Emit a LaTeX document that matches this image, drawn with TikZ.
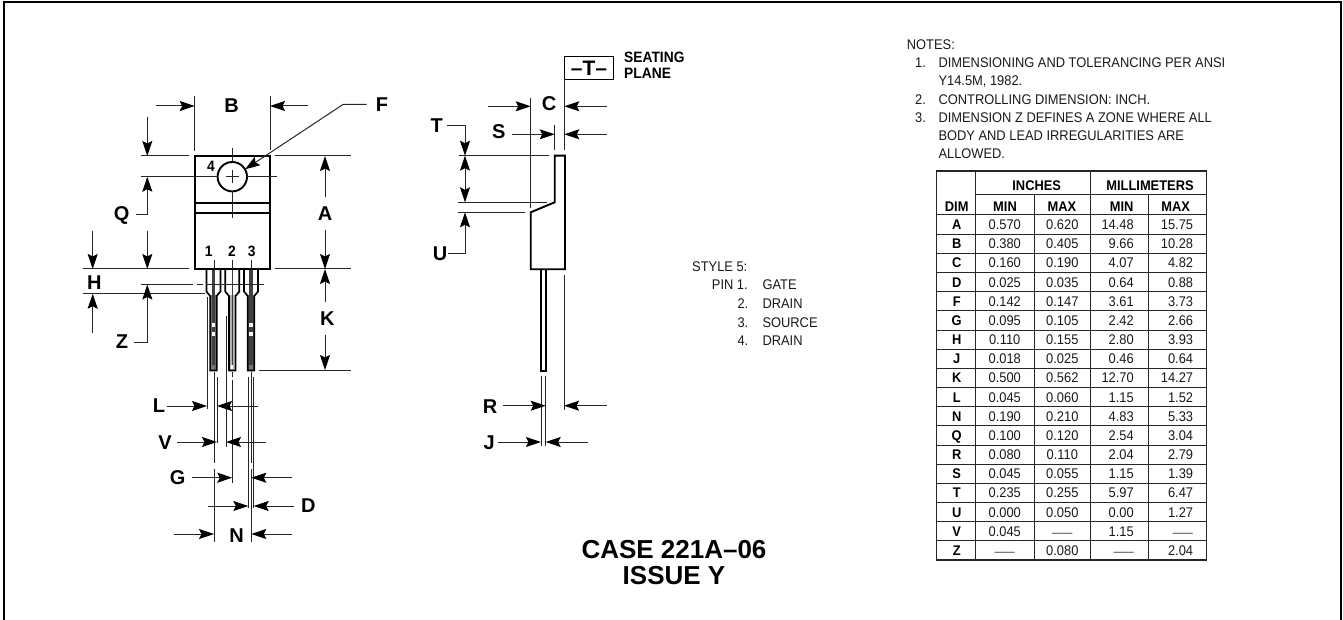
\documentclass[tikz,border=0pt]{standalone}
\usepackage{fontspec}
\setmainfont{Liberation Sans}
\newfontfamily\cond[FakeStretch=0.92]{Liberation Sans}
\usetikzlibrary{arrows.meta}
\newcommand{\nodash}{{\fontsize{11}{11}\selectfont ——}}
\tikzset{
  x=1pt,y=-1pt,
  outline/.style={line width=1.9pt,black,line join=miter},
  ext/.style={line width=1pt,black!85},
  dim/.style={line width=1pt,black!85,-{Stealth[length=15pt,width=10pt,inset=2.5pt,black]}},
  lbl/.style={font=\fontsize{20}{20}\selectfont\bfseries,inner sep=0pt},
  pinno/.style={font=\cond\fontsize{15}{15}\selectfont\bfseries,inner sep=0pt},
  note/.style={font=\cond\fontsize{14}{14}\selectfont,inner sep=0pt,anchor=base west,text=black!90},
  cell/.style={font=\cond\fontsize{14}{14}\selectfont,inner sep=0pt,text=black!90},
  head/.style={font=\cond\fontsize{14}{14}\selectfont\bfseries,inner sep=0pt,anchor=base},
  tline/.style={line width=1pt,black!85},
  tframe/.style={line width=1.4pt,black!85},
  pinwall/.style={line width=1.7pt,black},
  captext/.style={font=\fontsize{26}{26}\selectfont\bfseries,inner sep=0pt},
}
\begin{document}
\begin{tikzpicture}
\useasboundingbox (0,0) rectangle (1343,620);
% frame, open at the bottom
\draw[line width=2.6pt] (4,620) -- (4,2) -- (1341,2) -- (1341,620);

%% ---------- FRONT VIEW ----------
% pins (drawn first, then body)
\foreach \c/\wid/\cw/\cc in {213.4/3.3/3.2/black!55, 232.3/3.3/1.4/black!30, 251/3.3/3.2/black!55}{
  \fill[\cc] (\c-\wid,295) rectangle (\c+\wid,370);
  \draw[pinwall] (\c-7,269) -- (\c-7,291.5) -- (\c-\wid,296) -- (\c-\wid,370.5) -- (\c+\wid,370.5) -- (\c+\wid,296) -- (\c+7,291.5) -- (\c+7,269);
  \draw[line width=\cw pt,black!75] (\c,269) -- (\c,365);
}
% white breaks in the centre lines of leads 1 and 3
\foreach \c in {213.4,251}{
  \fill[white] (\c-1.6,322.5) rectangle (\c+1.6,326.5);
  \fill[white] (\c-1.6,332) rectangle (\c+1.6,336);
}
\fill[white] (231.2,365) rectangle (233.4,369);
% body
\draw[outline,fill=white] (194.7,156) rectangle (270,269);
\draw[outline] (194.7,203) -- (270,203) (194.7,212.7) -- (270,212.7);
\draw[line width=1.9pt,fill=white] (232.3,176.7) circle (14.7);
% centre lines of the hole
\draw[ext] (141,176.7) -- (217.6,176.7) (247,176.7) -- (276.7,176.7);
\draw[ext] (226,176.7) -- (238.6,176.7) (232.3,170.4) -- (232.3,183);
\draw[ext] (232.3,148.3) -- (232.3,162) (232.3,191.4) -- (232.3,218.3);
% lead centre lines inside the body
\draw[ext] (214,260) -- (214,269) (232.3,260) -- (232.3,269) (251,260) -- (251,269);
% pin numbers
\node[pinno] (n4) at (211,166.7) {4};
\node[pinno] (n1) at (208.7,251) {1};
\node[pinno] (n2) at (232,251) {2};
\node[pinno] (n3) at (251.7,251) {3};

% B
\draw[ext] (194.7,96) -- (194.7,151) (270,96) -- (270,150);
\draw[dim] (156.3,106) -- (194.7,106);
\draw[dim] (308,106) -- (270,106);
\node[lbl] (B) at (231.7,105.7) {B};
% F
\node[lbl] (F) at (382,104.5) {F};
\draw[dim] (366.7,104.3) -- (343.3,104.3) -- (245,169.3);
% horizontal extension lines
\draw[ext] (141,156) -- (189.3,156) (275,156) -- (350.7,156);
\draw[ext] (82.7,269) -- (189.3,269) (275,269) -- (350.7,269);
\draw[ext] (82.7,293.7) -- (205,293.7);
\draw[ext] (141,284.5) -- (193.3,284.5) (197.3,284.5) -- (202.7,284.5) (206,284.5) -- (264,284.5);
\draw[ext] (259,370) -- (350.7,370);
% Q
\draw[dim] (147.3,116.7) -- (147.3,156);
\draw[dim] (136,215) -- (147.3,215) -- (147.3,176.7);
\draw[dim] (147.3,230.7) -- (147.3,269);
\node[lbl] (Q) at (121.7,215) {Q};
% H
\draw[dim] (92.7,230.7) -- (92.7,269);
\draw[dim] (92.7,332.7) -- (92.7,293.7);
\node[lbl] (H) at (94.3,283) {H};
% Z
\draw[dim] (134,342.3) -- (147.3,342.3) -- (147.3,284.5);
\node[lbl] (Z) at (122,341.7) {Z};
% A
\draw[dim] (325,196.7) -- (325,156);
\draw[dim] (325,230) -- (325,269);
\node[lbl] (A) at (325,213.3) {A};
% K
\draw[dim] (325,301.7) -- (325,269);
\draw[dim] (325,335) -- (325,370);
\node[lbl] (K) at (327.3,318.3) {K};
% lower extension lines
\draw[ext] (207,296.7) -- (207,409.3);
\draw[ext] (217,376.7) -- (217,443);
\draw[ext] (214,371.7) -- (214,463) (214,469) -- (214,541.7);
\draw[ext] (226,316) -- (226,446.7);
\draw[ext] (232.3,371.7) -- (232.3,376.7) (232.3,380) -- (232.3,483);
\draw[ext] (248.3,376.7) -- (248.3,508) (253.7,376.7) -- (253.7,508);
\draw[ext] (251.3,371.7) -- (251.3,463) (251.3,469) -- (251.3,541.7);
% L V G D N
\draw[dim] (166.7,406) -- (207,406);
\draw[dim] (258.3,406) -- (217,406);
\node[lbl] (L) at (159,406) {L};
\draw[dim] (177.3,442) -- (217,442);
\draw[dim] (266,442) -- (226,442);
\node[lbl] (V) at (165,442.3) {V};
\draw[dim] (192.3,477.7) -- (232.3,477.7);
\draw[dim] (291.7,477.7) -- (251.3,477.7);
\node[lbl] (G) at (177.7,477.3) {G};
\draw[dim] (208.3,506) -- (248.3,506);
\draw[dim] (294.3,506) -- (253.7,506);
\node[lbl] (D) at (308.3,506) {D};
\draw[dim] (173.7,534) -- (214,534);
\draw[dim] (291.7,534) -- (251.3,534);
\node[lbl] (N) at (236.7,535.7) {N};

%% ---------- SIDE VIEW ----------
\draw[pinwall,line width=1.9pt] (540.8,269) -- (540.8,371) -- (546,371) -- (546,269);
\draw[outline] (554.7,155.7) -- (565,155.7) -- (565,269.3) -- (530.7,269.3) -- (530.7,212.3) -- (554.7,202.3) -- cycle;
% seating plane box
\node[draw,line width=1pt,minimum width=49.4pt,minimum height=23pt,inner sep=0pt,font=\fontsize{21}{21}\selectfont\bfseries] (Tbox) at (589,67.8) {–T–};
\node[font=\cond\fontsize{15}{15}\selectfont\bfseries,inner sep=0pt,anchor=base west] (seat) at (624,63) {SEATING};
\node[font=\cond\fontsize{15}{15}\selectfont\bfseries,inner sep=0pt,anchor=base west] (plane) at (624,78.6) {PLANE};
\draw[ext] (564.3,79.3) -- (564.3,150);
\draw[ext] (530.7,98.3) -- (530.7,208.3);
\draw[ext] (554.7,125) -- (554.7,150);
% C
\draw[dim] (488.3,106.3) -- (530.7,106.3);
\draw[dim] (607,106.3) -- (564.3,106.3);
\node[lbl] (C) at (549,104) {C};
% S
\draw[dim] (512,134.3) -- (554.7,134.3);
\draw[dim] (607,134.3) -- (564.3,134.3);
\node[lbl] (S) at (498.7,131.7) {S};
% T U
\draw[ext] (459.3,155.7) -- (549,155.7);
\draw[ext] (458.3,202.3) -- (546.7,202.3);
\draw[ext] (458.3,212.3) -- (525,212.3);
\draw[dim] (446.7,125.7) -- (465,125.7) -- (465,155.7);
\draw[dim] (465,178) -- (465,155.7);
\draw[dim] (465,178) -- (465,202.3);
\draw[dim] (448.3,253.3) -- (465,253.3) -- (465,212.3);
\node[lbl] (T) at (436.7,125.7) {T};
\node[lbl] (U) at (440,254) {U};
% R J
\draw[ext] (564,275) -- (564,410);
\draw[ext] (541,375.7) -- (541,446) (545.7,375.7) -- (545.7,446);
\draw[dim] (503.3,405.7) -- (545.7,405.7);
\draw[dim] (606.7,405.7) -- (564,405.7);
\node[lbl] (R) at (490,406.7) {R};
\draw[dim] (498.3,442) -- (541,442);
\draw[dim] (588.3,442) -- (545.7,442);
\node[lbl] (J) at (489.3,443) {J};

%% ---------- STYLE ----------
\node[note] (st0) at (692,271.7) {STYLE 5:};
\node[note] (st1) at (711.7,290) {PIN 1.};
\node[note] (st1b) at (762.3,290) {GATE};
\node[note] (st2) at (737.3,308.3) {2.};
\node[note] (st2b) at (762.3,308.3) {DRAIN};
\node[note] (st3) at (737.3,327.2) {3.};
\node[note] (st3b) at (762.3,327.2) {SOURCE};
\node[note] (st4) at (737.3,345.5) {4.};
\node[note] (st4b) at (762.3,345.5) {DRAIN};

%% ---------- CAPTION ----------
\node[captext] (cap1) at (674,550) {CASE 221A–06};
\node[captext] (cap2) at (674,576) {ISSUE Y};

%% ---------- NOTES ----------
\node[note] (nt0) at (906.7,50) {NOTES:};
\node[note] (nt1) at (915,67.7) {1.};
\node[note] (nt1a) at (938.3,67.7) {DIMENSIONING AND TOLERANCING PER ANSI};
\node[note] (nt1b) at (938.3,86) {Y14.5M, 1982.};
\node[note] (nt2) at (915,104.3) {2.};
\node[note] (nt2a) at (938.3,104.3) {CONTROLLING DIMENSION: INCH.};
\node[note] (nt3) at (915,122.3) {3.};
\node[note] (nt3a) at (938.3,122.3) {DIMENSION Z DEFINES A ZONE WHERE ALL};
\node[note] (nt3b) at (938.3,140.3) {BODY AND LEAD IRREGULARITIES ARE};
\node[note] (nt3c) at (938.3,158.5) {ALLOWED.};

%% ---------- TABLE ----------
\foreach \k in {0,...,17}{
  \pgfmathsetmacro{\yy}{215+\k*19.167}
  \draw[tline] (936.7,\yy) -- (1206.7,\yy);
}
\draw[tline] (975.3,194.3) -- (1206.7,194.3);
\draw[tframe] (936.7,171) rectangle (1206.7,560);
\draw[tline] (975.3,171) -- (975.3,560) (1090.3,171) -- (1090.3,560);
\draw[tline] (1034.3,194.3) -- (1034.3,560) (1148.3,194.3) -- (1148.3,560);
\node[head] (hInch) at (1036.7,190.7) {INCHES};
\node[head] (hMm) at (1150,190.7) {MILLIMETERS};
\node[head] (hDim) at (956.7,211.7) {DIM};
\node[head] (hMin1) at (1005,211.7) {MIN};
\node[head] (hMax1) at (1062,211.7) {MAX};
\node[head] (hMin2) at (1121.7,211.7) {MIN};
\node[head] (hMax2) at (1175.7,211.7) {MAX};
\foreach \d/\a/\b/\c/\e [count=\i from 0] in {
  A/0.570/0.620/14.48/15.75,
  B/0.380/0.405/9.66/10.28,
  C/0.160/0.190/4.07/4.82,
  D/0.025/0.035/0.64/0.88,
  F/0.142/0.147/3.61/3.73,
  G/0.095/0.105/2.42/2.66,
  H/0.110/0.155/2.80/3.93,
  J/0.018/0.025/0.46/0.64,
  K/0.500/0.562/12.70/14.27,
  L/0.045/0.060/1.15/1.52,
  N/0.190/0.210/4.83/5.33,
  Q/0.100/0.120/2.54/3.04,
  R/0.080/0.110/2.04/2.79,
  S/0.045/0.055/1.15/1.39,
  T/0.235/0.255/5.97/6.47,
  U/0.000/0.050/0.00/1.27,
  V/0.045/\nodash/1.15/\nodash,
  Z/\nodash/0.080/\nodash/2.04}{
  \pgfmathsetmacro{\yb}{215+\i*19.167+14.6}
  \node[head] (r\i) at (956.7,\yb) {\d};
  \node[cell,anchor=base] (r\i a) at (1004.7,\yb) {\a};
  \node[cell,anchor=base] (r\i b) at (1062.3,\yb) {\b};
  \node[cell,anchor=base east] (r\i c) at (1134,\yb) {\c};
  \node[cell,anchor=base east] (r\i d) at (1193.3,\yb) {\e};
}
\end{tikzpicture}
\end{document}
